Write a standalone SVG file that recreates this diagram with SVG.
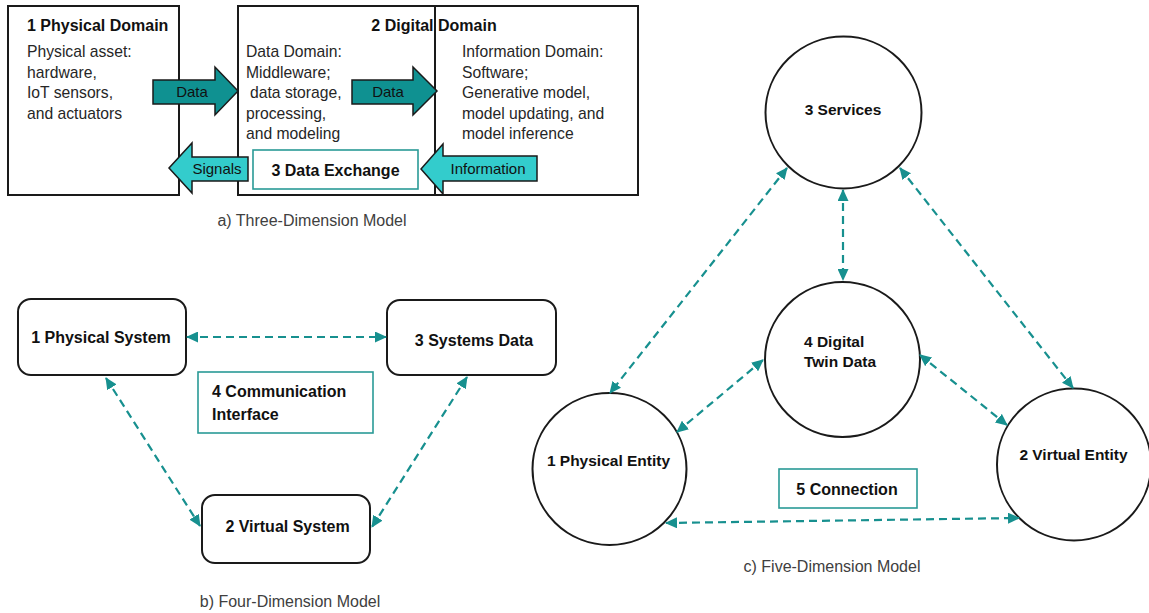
<svg xmlns="http://www.w3.org/2000/svg" width="1149" height="613" viewBox="0 0 1149 613">
<style>
  .box{fill:#fff;stroke:#1a1a1a;stroke-width:2}
  .tbox{fill:#fff;stroke:#2a9a96;stroke-width:1.6}
  .node{fill:#fff;stroke:#1a1a1a;stroke-width:2}
  .b{font-family:"Liberation Sans",Arial,sans-serif;font-weight:bold;font-size:16px;fill:#111}
  .b15{font-family:"Liberation Sans",Arial,sans-serif;font-weight:bold;font-size:15.5px;fill:#111}
  .r{font-family:"Liberation Sans",Arial,sans-serif;font-size:15.7px;fill:#262626}
  .cap{font-family:"Liberation Sans",Arial,sans-serif;font-size:16px;fill:#404040}
  .al{font-family:"Liberation Sans",Arial,sans-serif;font-size:15px;fill:#111}
  .dark{fill:#0f9191;stroke:#1a1a1a;stroke-width:1.5}
  .light{fill:#33cccc;stroke:#1a1a1a;stroke-width:1.5}
  .con{fill:none;stroke:#17908f;stroke-width:2.2;stroke-dasharray:8 5;marker-start:url(#ah);marker-end:url(#ah)}
  .m{text-anchor:middle}
</style>
<defs>
  <marker id="ah" viewBox="0 0 12 11" refX="11" refY="5.5" markerWidth="12" markerHeight="11" markerUnits="userSpaceOnUse" orient="auto-start-reverse">
    <path d="M0,0 L12,5.5 L0,11 z" fill="#17908f"/>
  </marker>
</defs>

<!-- a) Three-Dimension Model -->
<g id="physical-domain">
  <rect class="box" x="8" y="6" width="171" height="189"/>
  <text class="b" x="27" y="31">1 Physical Domain</text>
  <text class="r" x="27" y="57">Physical asset:</text>
  <text class="r" x="27" y="77.5">hardware,</text>
  <text class="r" x="27" y="98">IoT sensors,</text>
  <text class="r" x="27" y="118.5">and actuators</text>
</g>
<g id="data-domain">
  <rect class="box" x="238" y="6" width="197" height="189"/>
  <text class="r" x="246" y="57">Data Domain:</text>
  <text class="r" x="246" y="77.5">Middleware;</text>
  <text class="r" x="250" y="98">data storage,</text>
  <text class="r" x="246" y="118.5">processing,</text>
  <text class="r" x="246" y="139">and modeling</text>
</g>
<g id="information-domain">
  <rect class="box" x="435" y="6" width="203" height="189"/>
  <text class="r" x="462" y="57">Information Domain:</text>
  <text class="r" x="462" y="77.5">Software;</text>
  <text class="r" x="462" y="98">Generative model,</text>
  <text class="r" x="462" y="118.5">model updating, and</text>
  <text class="r" x="462" y="139">model inference</text>
</g>
<g id="digital-domain-title">
  <text class="b m" x="434" y="31">2 Digital Domain</text>
</g>
<g id="data-exchange">
  <rect class="tbox" x="253" y="150" width="165" height="39"/>
  <text class="b m" x="335.5" y="176">3 Data Exchange</text>
</g>
<g id="block-arrows">
  <polygon class="dark" points="153,80 215,80 215,67 238,91 215,115 215,104 153,104"/>
  <text class="al m" x="192" y="97">Data</text>
  <polygon class="dark" points="352,80 413,80 413,67 437,91 413,115 413,104 352,104"/>
  <text class="al m" x="388" y="97">Data</text>
  <polygon class="light" points="248,157 192,157 192,143 169,168 192,193 192,181 248,181"/>
  <text class="al m" x="217" y="174">Signals</text>
  <polygon class="light" points="537,156 443,156 443,144 421,169 443,194 443,181 537,181"/>
  <text class="al m" x="488" y="174">Information</text>
</g>
<text class="cap m" x="312" y="226">a) Three-Dimension Model</text>

<!-- b) Four-Dimension Model -->
<g id="physical-system">
  <rect class="box" x="18" y="299" width="168" height="76" rx="13"/>
  <text class="b m" x="101" y="343">1 Physical System</text>
</g>
<g id="systems-data">
  <rect class="box" x="387" y="300" width="169" height="75" rx="13"/>
  <text class="b m" x="474" y="346">3 Systems Data</text>
</g>
<g id="virtual-system">
  <rect class="box" x="202" y="495" width="168" height="68" rx="13"/>
  <text class="b m" x="287.5" y="532">2 Virtual System</text>
</g>
<g id="communication-interface">
  <rect class="tbox" x="198" y="372" width="175" height="61"/>
  <text class="b" x="212" y="397">4 Communication</text>
  <text class="b" x="212" y="420">Interface</text>
</g>
<text class="cap m" x="290" y="607">b) Four-Dimension Model</text>

<!-- c) Five-Dimension Model -->
<g id="services">
  <ellipse class="node" cx="843.5" cy="112.5" rx="78" ry="76"/>
  <text class="b15 m" x="843" y="115">3 Services</text>
</g>
<g id="digital-twin-data">
  <ellipse class="node" cx="842.5" cy="359.5" rx="77.5" ry="77.5"/>
  <text class="b15" x="804" y="347">4 Digital</text>
  <text class="b15" x="804" y="367">Twin Data</text>
</g>
<g id="physical-entity">
  <ellipse class="node" cx="609.5" cy="469" rx="77" ry="76"/>
  <text class="b15 m" x="608.5" y="466">1 Physical Entity</text>
</g>
<g id="virtual-entity">
  <ellipse class="node" cx="1074" cy="464.5" rx="77" ry="76"/>
  <text class="b15 m" x="1073.5" y="460">2 Virtual Entity</text>
</g>
<g id="connection">
  <rect class="tbox" x="779" y="469" width="138" height="39"/>
  <text class="b m" x="847" y="495">5 Connection</text>
</g>
<text class="cap m" x="832" y="572">c) Five-Dimension Model</text>

<g id="connectors">
  <line class="con" x1="187" y1="337" x2="386" y2="337"/>
  <line class="con" x1="106" y1="378" x2="200" y2="526"/>
  <line class="con" x1="467" y1="377" x2="372" y2="527"/>
  <line class="con" x1="843" y1="190" x2="843" y2="280"/>
  <line class="con" x1="787" y1="168" x2="610" y2="393"/>
  <line class="con" x1="900" y1="168" x2="1073" y2="388"/>
  <line class="con" x1="677" y1="432" x2="763" y2="360"/>
  <line class="con" x1="920" y1="355" x2="1007" y2="425"/>
  <line class="con" x1="666" y1="523" x2="1019" y2="518"/>
</g>
</svg>
